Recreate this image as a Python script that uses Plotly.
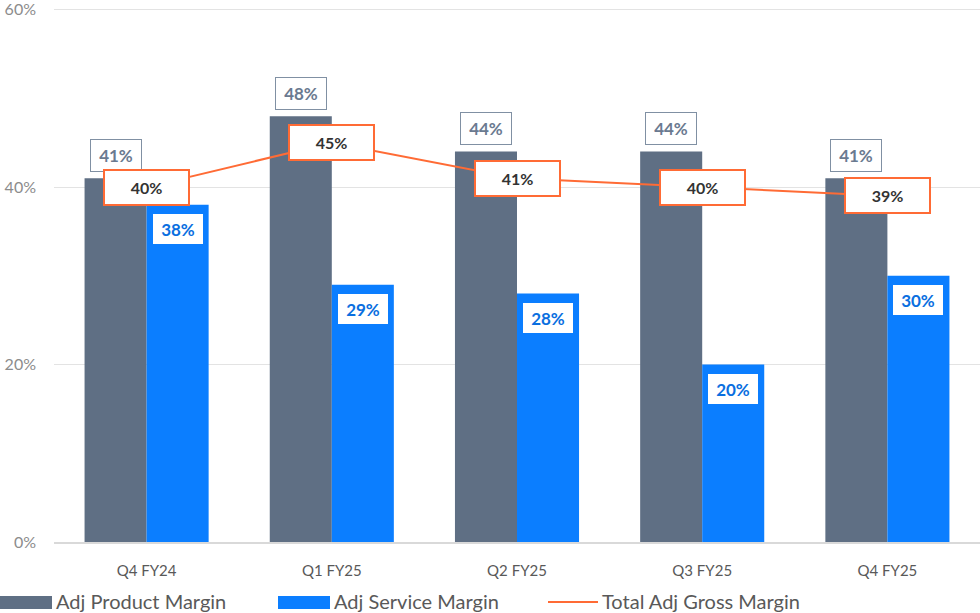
import plotly.graph_objects as go

categories = ["Q4 FY24", "Q1 FY25", "Q2 FY25", "Q3 FY25", "Q4 FY25"]
product_margin = [41, 48, 44, 44, 41]
service_margin = [38, 29, 28, 20, 30]
total_margin = [40, 45, 41, 40, 39]
y_ticks = [0, 20, 40, 60]
y_tick_labels = ["0%", "20%", "40%", "60%"]
series_names = ["Adj Product Margin", "Adj Service Margin", "Total Adj Gross Margin"]

GRAY = "#5F6F84"
BLUE = "#0B7EFF"
ORANGE = "#FF6B35"
FONT = "Lato"

L, R, T, B = 54, 0, 7, 71
W, H = 980, 613
PW = W - L - R
PH = H - T - B
BAR_PX = 62  # half-offset of grouped bars in pixels

fig = go.Figure()
fig.add_trace(go.Bar(x=categories, y=product_margin, name=series_names[0],
                     marker=dict(color=GRAY, line=dict(width=0)), showlegend=False))
fig.add_trace(go.Bar(x=categories, y=service_margin, name=series_names[1],
                     marker=dict(color=BLUE, line=dict(width=0)), showlegend=False))
fig.add_trace(go.Scatter(x=categories, y=total_margin, name=series_names[2], mode="lines",
                         line=dict(color=ORANGE, width=2), showlegend=False))

ann = []
for c, v in zip(categories, product_margin):
    ann.append(dict(x=c, y=v, xref="x", yref="y", text=f"<b>{v}%</b>", showarrow=False,
                    xshift=-BAR_PX / 2, yshift=23, yanchor="middle",
                    font=dict(family=FONT, size=17, color="#6A7A90"),
                    bgcolor="white", bordercolor="#8090A3", borderwidth=1, borderpad=0,
                    width=50, height=31))
for c, v in zip(categories, service_margin):
    ann.append(dict(x=c, y=v, xref="x", yref="y", text=f"<b>{v}%</b>", showarrow=False,
                    xshift=BAR_PX / 2, yshift=-24, yanchor="middle",
                    font=dict(family=FONT, size=17, color="#0A6FE0"),
                    bgcolor="white", borderwidth=0, borderpad=0,
                    width=50, height=30))
for c, v in zip(categories, total_margin):
    ann.append(dict(x=c, y=v, xref="x", yref="y", text=f"<b>{v}%</b>", showarrow=False,
                    yanchor="middle",
                    font=dict(family=FONT, size=16, color="#333333"),
                    bgcolor="white", bordercolor=ORANGE, borderwidth=2, borderpad=0,
                    width=83, height=33))

# manual legend (paper coords)
def px_x(p):
    return (p - L) / PW

def px_y(p):
    return (H - B - p) / PH

shapes = []
legend_items = [(0, 52, GRAY, "rect"), (278, 330, BLUE, "rect"), (548, 598, ORANGE, "line")]
for (x0, x1, col, kind), name in zip(legend_items, series_names):
    if kind == "rect":
        shapes.append(dict(type="rect", xref="paper", yref="paper",
                           x0=px_x(x0), x1=px_x(x1), y0=px_y(609), y1=px_y(596),
                           fillcolor=col, line=dict(width=0)))
    else:
        shapes.append(dict(type="line", xref="paper", yref="paper",
                           x0=px_x(x0), x1=px_x(x1), y0=px_y(602), y1=px_y(602),
                           line=dict(color=col, width=2)))
    ann.append(dict(x=px_x(x1 + 2), y=px_y(601), xref="paper", yref="paper",
                    text=name, showarrow=False, xanchor="left", yanchor="middle",
                    font=dict(family=FONT, size=20, color="#595959")))

fig.update_layout(
    width=W, height=H,
    margin=dict(l=L, r=R, t=T, b=B),
    plot_bgcolor="white", paper_bgcolor="white",
    barmode="group", bargap=0.33, bargroupgap=0,
    annotations=ann, shapes=shapes,
    font=dict(family=FONT),
)
fig.update_xaxes(showgrid=False, showline=True, linecolor="#D9D9D9", linewidth=1.5,
                 ticks="", tickfont=dict(family=FONT, size=15, color="#595959"),
                 ticklabelstandoff=14)
fig.update_yaxes(range=[0, 60.3], tickvals=y_ticks, ticktext=y_tick_labels,
                 showgrid=True, gridcolor="#E3E3E3", gridwidth=1, zeroline=False,
                 showline=False, ticks="", ticklabeloverflow="allow",
                 tickfont=dict(family=FONT, size=16, color="#8C8C8C"),
                 ticklabelstandoff=17)

fig.write_html("out.html", config={"displayModeBar": False},
               post_script="document.body.style.margin='0';document.body.style.overflow='hidden';")
